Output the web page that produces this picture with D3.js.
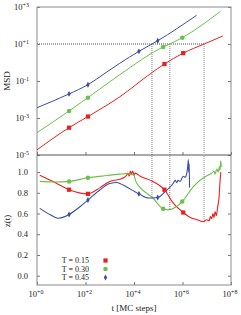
<!DOCTYPE html>
<html>
<head>
<meta charset="utf-8">
<script src="https://cdn.jsdelivr.net/npm/d3@7"></script>
<style>
  body { margin: 0; background: #fff; }
  text { font-family: "Liberation Serif", "DejaVu Serif", serif; fill: #222; }
</style>
</head>
<body>
<div id="chart"></div>
<script>
// ticks
const tTicks = [1e0, 1e2, 1e4, 1e6, 1e8]
const tTickExp = ["+0", "+2", "+4", "+6", "+8"]
const msdTicks = [1e-5, 1e-3, 1e-1, 1e1, 1e3]
const msdTickExp = ["-5", "-3", "-1", "+1", "+3"]
const zTicks = [0, 0.2, 0.4, 0.6, 0.8, 1.0]

const temps = ["T = 0.15", "T = 0.30", "T = 0.45"]

// MSD curves
const tMsdRed = [1, 21, 126, 2.6e3, 5e4, 1.8e5, 1.07e6, 7.8e6, 4.6e7]
const msdRed = [1.9e-5, 3.0e-4, 1.2e-3, 1.4e-2, 0.26, 0.83, 3.2, 10, 27]
const tMsdGreen = [1, 21, 126, 2.6e3, 1.6e5, 3.0e5, 9.8e5, 3.7e7]
const msdGreen = [1.6e-4, 2.4e-3, 1.26e-2, 0.22, 6.9, 10, 22, 590]
const tMsdBlue = [1, 21, 126, 630, 2.6e3, 1.6e4, 9.5e4, 3.8e6]
const msdBlue = [3.6e-3, 2.0e-2, 6.3e-2, 0.26, 0.91, 4.0, 15, 355]

// z(t) curves
const tZRed = [1.3, 5.5, 21, 126, 400, 1.0e3, 2.6e3, 4.0e3, 5.0e3, 5.6e3, 6.3e3, 7.1e3, 7.9e3, 8.9e3, 1.0e4, 1.12e4,
  1.8e4, 6.0e4, 1.8e5, 4.2e5, 1.07e6, 2.0e6, 4.0e6, 7.2e6, 1.0e7, 1.26e7, 1.4e7, 1.6e7, 1.8e7, 2.0e7, 2.2e7, 2.5e7, 2.8e7, 3.2e7, 3.5e7, 3.8e7]
const zRed = [0.97, 0.90, 0.83, 0.79, 0.85, 0.91, 0.93, 0.95, 0.97, 0.99, 0.96, 1.01, 0.98, 1.01, 0.97, 0.99,
  0.96, 0.91, 0.83, 0.70, 0.61, 0.565, 0.54, 0.52, 0.54, 0.53, 0.57, 0.55, 0.60, 0.56, 0.62, 0.58, 0.66, 0.75, 0.90, 1.00]
const tZGreen = [1.3, 5.5, 21, 126, 630, 2.6e3, 5.0e3, 7.9e3, 1.0e4, 1.12e4, 1.26e4, 1.8e4, 6.0e4, 1.6e5, 2.5e5, 9.8e5,
  2.8e6, 7.8e6, 1.6e7, 2.0e7, 2.2e7, 2.6e7, 3.0e7, 3.3e7, 3.5e7, 3.8e7, 4.0e7]
const zGreen = [0.91, 0.905, 0.91, 0.945, 0.965, 0.98, 0.985, 0.975, 0.97, 0.93, 0.90, 0.85, 0.75, 0.645, 0.635, 0.715,
  0.86, 0.95, 0.99, 1.01, 0.98, 1.03, 1.00, 1.05, 1.02, 1.11, 1.05]
const tZBlue = [1.3, 3.4, 7.2, 14, 21, 59, 126, 400, 1.0e3, 2.0e3, 2.6e3, 1.6e4, 4.0e4, 9.5e4, 1.9e5, 4.1e5,
  5.0e5, 5.8e5, 6.6e5, 8.0e5, 1.07e6, 1.3e6, 1.5e6, 1.65e6, 1.74e6, 1.8e6, 1.9e6, 1.95e6]
const zBlue = [0.65, 0.59, 0.555, 0.57, 0.59, 0.665, 0.73, 0.83, 0.89, 0.90, 0.89, 0.79, 0.75, 0.755, 0.81, 0.89,
  0.92, 0.90, 0.92, 0.91, 0.96, 0.95, 0.99, 1.06, 1.12, 1.00, 1.08, 0.85]

// markers (same times in both panels)
const tMarkRed = [21, 126, 1.8e5, 1.07e6]
const msdMarkRed = [3.0e-4, 1.2e-3, 0.83, 3.2]
const zMarkRed = [0.83, 0.79, 0.83, 0.61]
const tMarkGreen = [21, 126, 1.6e5, 9.8e5]
const msdMarkGreen = [2.4e-3, 1.26e-2, 6.9, 22]
const zMarkGreen = [0.91, 0.945, 0.645, 0.715]
const tMarkBlue = [21, 126, 1.6e4, 9.5e4]
const msdMarkBlue = [2.0e-2, 6.3e-2, 4.0, 15]
const zMarkBlue = [0.59, 0.73, 0.79, 0.755]

// times where MSD reaches 10, and z(t) there
const msdLevel = 10
const tCross = [5.5e4, 3.0e5, 7.8e6]
const zCross = [0.75, 0.635, 0.52]

const colors = ["#e8211f", "#6cbf48", "#3a4fa3"]

const W = 241, H = 315
const m = {left: 37, right: 231, top: 7, mid: 155, bottom: 285}

const svg = d3.select("#chart").append("svg")
    .attr("width", W).attr("height", H)

const x = d3.scaleLog().domain([1, 1e8]).range([m.left, m.right])
const yM = d3.scaleLog().domain([1e-5, 1e3]).range([m.mid, m.top])
const yZ = d3.scaleLinear().domain([-0.09, 1.165]).range([m.bottom, m.mid])

// axes ticks (inward)
function ticks(g, axis) { g.call(axis); g.select(".domain").remove(); g.selectAll("line").attr("stroke", "#777") }
svg.append("g").attr("transform", `translate(0,${m.mid})`)
    .call(g => ticks(g, d3.axisBottom(x).tickValues(tTicks).tickSize(-3).tickFormat("")))
svg.append("g").attr("transform", `translate(0,${m.bottom})`)
    .call(g => ticks(g, d3.axisBottom(x).tickValues(tTicks).tickSize(-3).tickFormat("")))
svg.append("g").attr("transform", `translate(${m.right},0)`)
    .call(g => ticks(g, d3.axisLeft(yM).tickValues(msdTicks).tickSize(3).tickFormat("")))
svg.append("g").attr("transform", `translate(${m.right},0)`)
    .call(g => ticks(g, d3.axisLeft(yZ).tickValues(zTicks).tickSize(3).tickFormat("")))
svg.append("g").attr("transform", `translate(${m.left},0)`)
    .call(g => ticks(g, d3.axisRight(yM).tickValues(msdTicks).tickSize(3).tickFormat("")))
svg.append("g").attr("transform", `translate(${m.left},0)`)
    .call(g => ticks(g, d3.axisRight(yZ).tickValues(zTicks).tickSize(3).tickFormat("")))

// frames
svg.append("rect").attr("x", m.left).attr("y", m.top).attr("width", m.right - m.left).attr("height", m.bottom - m.top)
    .attr("fill", "none").attr("stroke", "#8a8a8a").attr("stroke-width", 1)
svg.append("line").attr("x1", m.left).attr("x2", m.right).attr("y1", m.mid).attr("y2", m.mid)
    .attr("stroke", "#555").attr("stroke-width", 1)

// tick labels
function powLabel(sel, exps) {
    sel.append("tspan").text("10")
    sel.append("tspan").attr("font-size", 6).attr("dy", -3.5).text((d, i) => exps[i])
}
svg.append("g").selectAll("text").data(msdTicks).join("text")
    .attr("x", 29).attr("y", d => yM(d) + 3).attr("text-anchor", "end").attr("font-size", 8.5)
    .call(powLabel, msdTickExp)
svg.append("g").selectAll("text").data(zTicks).join("text")
    .attr("x", 28).attr("y", d => yZ(d) + 3).attr("text-anchor", "end").attr("font-size", 8.5)
    .text(d => d.toFixed(1))
svg.append("g").selectAll("text").data(tTicks).join("text")
    .attr("x", d => x(d) - 1).attr("y", 297).attr("text-anchor", "middle").attr("font-size", 8.5)
    .call(powLabel, tTickExp)

svg.append("text").attr("x", 134).attr("y", 311).attr("text-anchor", "middle").attr("font-size", 9)
    .text("t [MC steps]")
svg.append("text").attr("transform", "translate(10,81) rotate(-90)").attr("text-anchor", "middle")
    .attr("font-size", 9).text("MSD")
svg.append("text").attr("transform", "translate(10,221) rotate(-90)").attr("text-anchor", "middle")
    .attr("font-size", 9).text("z(t)")

// dotted guide lines
svg.append("line").attr("x1", x(1)).attr("x2", x(d3.max(tCross)))
    .attr("y1", yM(msdLevel)).attr("y2", yM(msdLevel))
    .attr("stroke", "#888").attr("stroke-width", 1.5).attr("stroke-dasharray", "1,1")
svg.append("g").selectAll("line").data(tCross).join("line")
    .attr("x1", d => x(d)).attr("x2", d => x(d))
    .attr("y1", yM(msdLevel)).attr("y2", (d, i) => yZ(zCross[i]))
    .attr("stroke", (d, i) => i === 2 ? "#bbb" : "#666")
    .attr("stroke-width", (d, i) => i === 2 ? 1.5 : 0.8)
    .attr("stroke-dasharray", "1,1")

// curves
const lineM = d3.line().x(d => x(d[0])).y(d => yM(d[1])).curve(d3.curveMonotoneX)
const lineZ = d3.line().x(d => x(d[0])).y(d => yZ(d[1])).curve(d3.curveMonotoneX)

const msdSeries = [[tMsdRed, msdRed], [tMsdGreen, msdGreen], [tMsdBlue, msdBlue]]
const zSeries = [[tZRed, zRed], [tZGreen, zGreen], [tZBlue, zBlue]]
const markSeries = [
    [tMarkRed, msdMarkRed, zMarkRed],
    [tMarkGreen, msdMarkGreen, zMarkGreen],
    [tMarkBlue, msdMarkBlue, zMarkBlue]
]

msdSeries.forEach(([ts, vs], i) => {
    svg.append("path").datum(d3.zip(ts, vs)).attr("d", lineM)
        .attr("fill", "none").attr("stroke", colors[i]).attr("stroke-width", 1)
})
zSeries.forEach(([ts, vs], i) => {
    svg.append("path").datum(d3.zip(ts, vs)).attr("d", lineZ)
        .attr("fill", "none").attr("stroke", colors[i]).attr("stroke-width", 1.1)
})

const symbols = [d3.symbolSquare, d3.symbolCircle, d3.symbolDiamond]
const symSize = [18, 16, 10]
markSeries.forEach(([ts, ms, zs], i) => {
    const sym = d3.symbol().type(symbols[i]).size(symSize[i])
    svg.append("g").selectAll("path").data(ts).join("path")
        .attr("transform", (d, j) => `translate(${x(d)},${yM(ms[j])})`)
        .attr("d", sym).attr("fill", colors[i])
    svg.append("g").selectAll("path").data(ts).join("path")
        .attr("transform", (d, j) => `translate(${x(d)},${yZ(zs[j])})`)
        .attr("d", sym).attr("fill", colors[i])
})

// legend
const legend = svg.append("g")
temps.forEach((name, i) => {
    const ly = 260.5 + i * 8.5
    legend.append("text").attr("x", 89).attr("y", ly + 2.8).attr("text-anchor", "end")
        .attr("font-size", 8).text(name)
    legend.append("path").attr("transform", `translate(105.5,${ly})`)
        .attr("d", d3.symbol().type(symbols[i]).size(symSize[i])).attr("fill", colors[i])
})
</script>
</body>
</html>
